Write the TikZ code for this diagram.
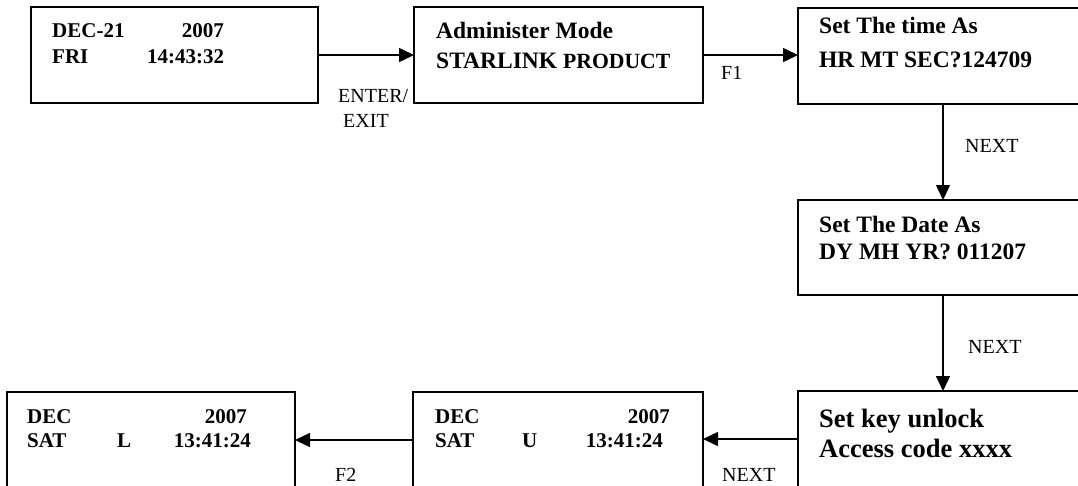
\documentclass[tikz,border=0pt]{standalone}
\usepackage{fontspec}
\setmainfont{Liberation Serif}
\usetikzlibrary{arrows.meta}
\begin{document}
\begin{tikzpicture}[x=1pt,y=-1pt,
  box/.style={draw, line width=2pt, rectangle, minimum width=#1, minimum height=96pt,
              inner sep=0pt, outer sep=0pt, anchor=north west},
  box/.default=290pt,
  arr/.style={line width=1.5pt, -{Triangle[length=15pt,width=14pt]}},
  lbl/.style={font=\fontsize{20}{24}\selectfont, inner sep=0pt, anchor=base west},
  txt/.style={font=\bfseries\fontsize{#1}{#1}\selectfont, inner sep=0pt, anchor=base west},
  txtr/.style={font=\bfseries\fontsize{#1}{#1}\selectfont, inner sep=0pt, anchor=base east}
]
\clip (0,0) rectangle (1078,485);

% boxes
\node[box=287pt] (b1) at (31,7) {};
\node[box=289pt] (b2) at (414,7) {};
\node[box] (b3) at (798,8) {};
\node[box, minimum height=95pt] (b4) at (798,200) {};
\node[box] (b6) at (798,391) {};
\node[box] (b5) at (413,392) {};
\node[box=288pt] (b7) at (7,392) {};

% box 1
\node[txt=21] (t1a) at (52,37) {DEC-21};
\node[txtr=21] (t1b) at (224,37) {2007};
\node[txt=21] (t1c) at (52,63) {FRI};
\node[txt=21] (t1d) at (147,63) {14:43:32};

% box 2
\node[txt=23.5] (t2a) at (436,38) {Administer Mode};
\node[txt=23.5] (t2b) at (436,68) {STARLINK \fontsize{21.7}{22}\selectfont PRODUCT};

% box 3
\node[txt=23.5] (t3a) at (819,33) {Set The time As};
\node[txt=23.5] (t3b) at (819,67) {HR MT SEC?124709};

% box 4
\node[txt=23.5] (t4a) at (819,232) {Set The Date As};
\node[txt=23.5] (t4b) at (819,259) {DY MH YR? 011207};

% box 6
\node[txt=26.5] (t6a) at (819,427) {Set key unlock};
\node[txt=26.5] (t6b) at (819,457) {Access code xxxx};

% box 5
\node[txt=21] (t5a) at (435,423) {DEC};
\node[txtr=21] (t5b) at (670,423) {2007};
\node[txt=21] (t5c) at (435,447) {SAT};
\node[txt=21] (t5d) at (522,447) {U};
\node[txtr=21] (t5e) at (663,447) {13:41:24};

% box 7
\node[txt=21] (t7a) at (27,423) {DEC};
\node[txtr=21] (t7b) at (247,423) {2007};
\node[txt=21] (t7c) at (27,447) {SAT};
\node[txt=21] (t7d) at (117,447) {L};
\node[txtr=21] (t7e) at (251,447) {13:41:24};

% connectors
\draw[arr] (b1.east) -- (b2.west);
\draw[arr] (b2.east) -- (b2.east -| b3.west);
\draw[arr] (b3.south) -- (b4.north);
\draw[arr] (b4.south) -- (b6.north);
\draw[arr] (b6.west) -- (b6.west -| b5.east);
\draw[arr] (b5.west) -- (b5.west -| b7.east);

% labels
\node[lbl] (l1) at (338,102) {ENTER/};
\node[lbl] (l2) at (343,127) {EXIT};
\node[lbl] (l3) at (721,79) {F1};
\node[lbl] (l4) at (965,152) {NEXT};
\node[lbl] (l5) at (968,353) {NEXT};
\node[lbl] (l6) at (722,481) {NEXT};
\node[lbl] (l7) at (335,481) {F2};
\end{tikzpicture}
\end{document}
